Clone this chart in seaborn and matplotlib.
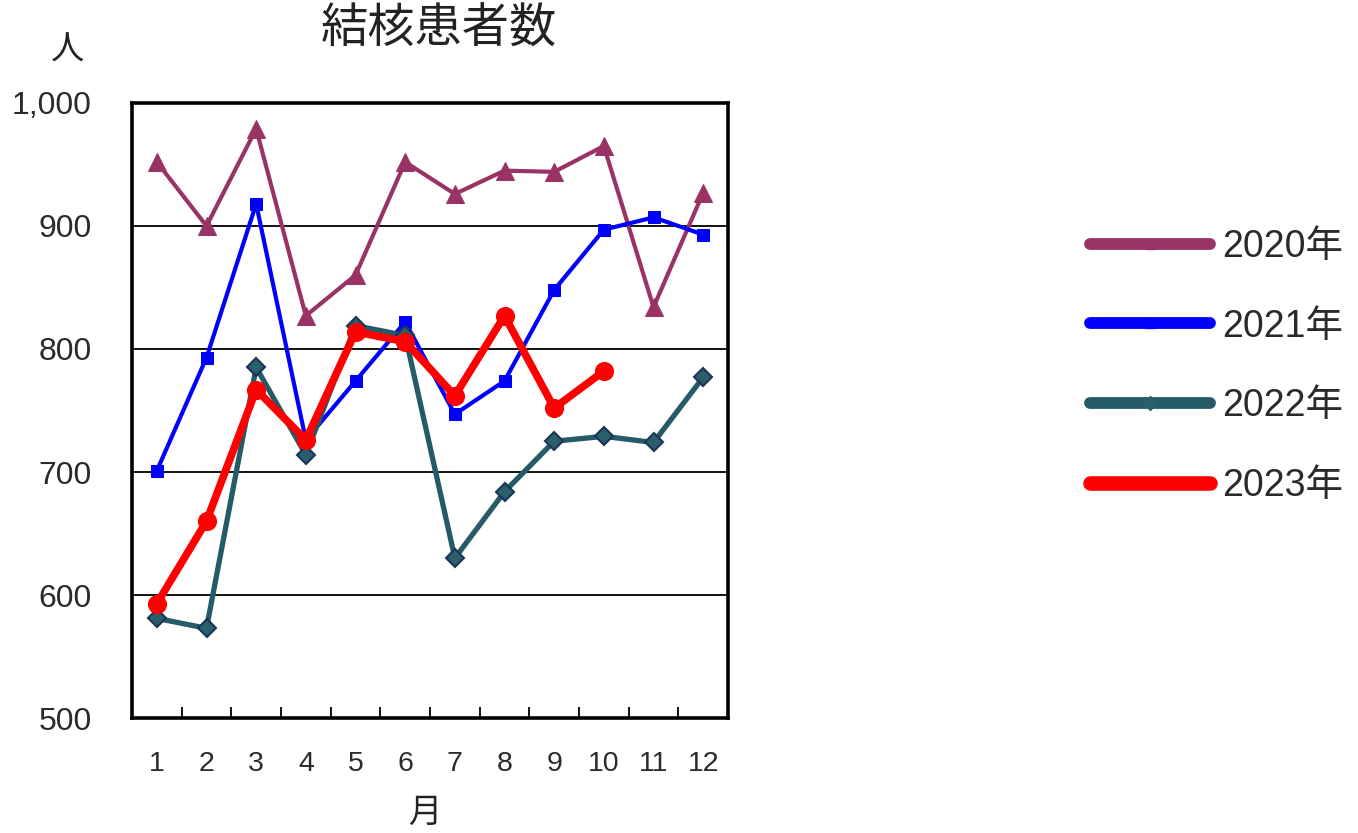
import matplotlib
matplotlib.use("Agg")
import matplotlib.pyplot as plt
from matplotlib.lines import Line2D
from matplotlib.ticker import FixedLocator, FuncFormatter
import seaborn as sns

# Monthly tuberculosis patient counts
months = [1, 2, 3, 4, 5, 6, 7, 8, 9, 10, 11, 12]
month_labels = ["1", "2", "3", "4", "5", "6", "7", "8", "9", "10", "11", "12"]
y2020 = [952, 900, 979, 827, 860, 952, 926, 945, 944, 965, 834, 927]
y2021 = [701, 793, 918, 726, 774, 822, 747, 774, 848, 897, 907, 893]
y2022 = [581, 573, 785, 714, 819, 811, 630, 684, 725, 729, 724, 777]
y2023 = [593, 660, 767, 726, 814, 806, 762, 827, 752, 782]
series_labels = ["2020年", "2021年", "2022年", "2023年"]
y_ticks = [500, 600, 700, 800, 900, 1000]

sns.set_style("white")
plt.rcParams["font.family"] = ["Liberation Sans", "Noto Sans CJK JP", "DejaVu Sans"]

fig = plt.figure(figsize=(13.58, 8.33), dpi=100)
ax = fig.add_axes([0.0972, 0.138, 0.4389, 0.7384])

styles = [
    dict(color="#993366", lw=3.0, marker="^", markersize=13,
         markerfacecolor="#993366", markeredgecolor="#993366"),
    dict(color="#0000FF", lw=3.0, marker="s", markersize=9,
         markerfacecolor="#0000FF", markeredgecolor="#0000FF"),
    dict(color="#245B66", lw=3.8, marker="D", markersize=9,
         markerfacecolor="#2B5E6B", markeredgecolor="#1A3558", markeredgewidth=1.5),
    dict(color="#FF0000", lw=5.5, marker="o", markersize=13,
         markerfacecolor="#FF0000", markeredgecolor="#FF0000"),
]
data = [y2020, y2021, y2022, y2023]

for i, (vals, st) in enumerate(zip(data, styles)):
    sns.lineplot(x=months[:len(vals)], y=vals, ax=ax, legend=False,
                 zorder=3 + i, **st)

ax.set_xlim(0.5, 12.5)
ax.set_ylim(500, 1000)
ax.set_xticks(months)
ax.set_xticklabels(month_labels)
ax.xaxis.set_minor_locator(FixedLocator([m + 0.5 for m in months[:-1]]))
ax.set_yticks(y_ticks)
ax.yaxis.set_major_formatter(FuncFormatter(lambda v, p: f"{int(v):,}"))

ax.tick_params(axis="x", which="major", length=0, pad=24, labelsize=20.5,
               labelcolor="#2a2a2a")
ax.tick_params(axis="x", which="minor", direction="in", length=8, width=1.3,
               color="black", bottom=True)
ax.tick_params(axis="y", length=0, pad=29, labelsize=23, labelcolor="#2a2a2a")

ax.yaxis.grid(True, color="black", lw=1.3)
ax.xaxis.grid(False)
ax.set_axisbelow(True)
for sp in ax.spines.values():
    sp.set_visible(True)
    sp.set_color("black")
    sp.set_linewidth(2.6)

ax.set_xlabel("")
ax.set_ylabel("")

fig.text(0.3235, 0.964, "結核患者数", ha="center", va="center", fontsize=34,
         color="#222222")
fig.text(0.050, 0.939, "人", ha="center", va="center", fontsize=24,
         color="#222222")
fig.text(0.313, 0.024, "月", ha="center", va="center", fontsize=24,
         color="#222222")

legend_lw = [8.5, 8.5, 8.5, 10.5]
handles = [
    Line2D([], [], color=st["color"], lw=w, marker=st["marker"], markersize=7,
           markerfacecolor=st["markerfacecolor"], markeredgecolor=st["markerfacecolor"])
    for st, w in zip(styles, legend_lw)
]
fig.legend(handles, series_labels, loc="center left",
           bbox_to_anchor=(0.803, 0.56), frameon=False, fontsize=27,
           handlelength=3.2, handletextpad=0.32, labelspacing=1.17,
           borderpad=0, borderaxespad=0, labelcolor="#2a2a2a")

fig.savefig("out.png", dpi=100)
